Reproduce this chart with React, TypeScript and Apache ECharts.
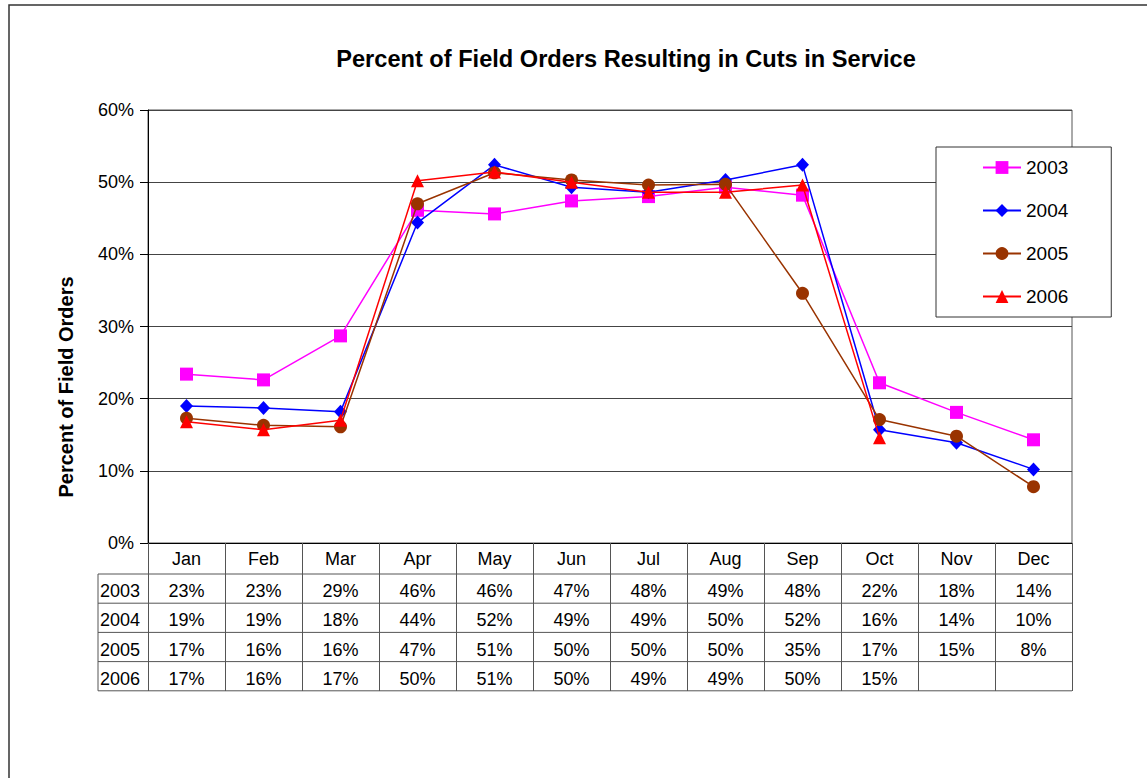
import React, { useEffect, useRef } from "react";
import * as echarts from "echarts";

const months = ["Jan", "Feb", "Mar", "Apr", "May", "Jun", "Jul", "Aug", "Sep", "Oct", "Nov", "Dec"];
const years = ["2003", "2004", "2005", "2006"];
const s2003 = [23.4, 22.6, 28.7, 46.1, 45.6, 47.4, 48.0, 49.3, 48.2, 22.2, 18.1, 14.3];
const s2004 = [19.0, 18.7, 18.2, 44.4, 52.4, 49.3, 48.6, 50.3, 52.4, 15.7, 13.9, 10.2];
const s2005 = [17.3, 16.3, 16.1, 47.0, 51.3, 50.3, 49.6, 49.7, 34.6, 17.1, 14.8, 7.8];
const s2006: (number | null)[] = [16.8, 15.7, 17.0, 50.2, 51.4, 50.0, 48.6, 48.6, 49.6, 14.6, null, null];
const yMin = 0;
const yMax = 60;
const yInterval = 10;

const allSeries = [s2003, s2004, s2005, s2006];
const colors = ["#FF00FF", "#0000FF", "#993300", "#FF0000"];
const symbols = ["rect", "diamond", "circle", "triangle"];

const FONT = "'Liberation Sans', Arial, sans-serif";

export default function App() {
  const ref = useRef<HTMLDivElement>(null);
  useEffect(() => {
    document.body.style.margin = "0";
    if (!ref.current) return;
    const chart = echarts.init(ref.current, undefined, { renderer: "svg" });
    const gridLeft = 148;
    const gridTop = 110;
    const gridRight = 75;
    const gridBottom = 235;
    chart.setOption({
      animation: false,
      backgroundColor: "#fff",
      textStyle: { fontFamily: FONT },
      grid: {
        left: gridLeft,
        top: gridTop,
        right: gridRight,
        bottom: gridBottom,
        show: true,
        borderColor: "#555",
        borderWidth: 1,
        backgroundColor: "transparent",
      },
      legend: {
        orient: "vertical",
        left: 936,
        top: 147,
        padding: [11, 43, 11, 46],
        itemWidth: 38,
        itemHeight: 16,
        itemGap: 24,
        borderColor: "#333",
        borderWidth: 1,
        backgroundColor: "#fff",
        textStyle: { fontSize: 19, color: "#000", fontFamily: FONT },
        data: years,
      },
      xAxis: {
        type: "category",
        data: months,
        boundaryGap: true,
        axisLine: { lineStyle: { color: "#000", width: 1 } },
        axisTick: { show: true, length: 148, interval: 0, lineStyle: { color: "#555", width: 1 } },
        axisLabel: { fontSize: 18, color: "#000", margin: 7, interval: 0, fontFamily: FONT },
        splitLine: { show: false },
      },
      yAxis: {
        type: "value",
        min: yMin,
        max: yMax,
        interval: yInterval,
        axisLine: { show: true, lineStyle: { color: "#000", width: 1 } },
        axisTick: { show: true, length: 8, lineStyle: { color: "#000" } },
        axisLabel: { formatter: "{value}%", fontSize: 18, color: "#000", margin: 14, fontFamily: FONT },
        splitLine: { show: true, lineStyle: { color: "#444", width: 1 } },
      },
      series: allSeries.map((d, i) => ({
        name: years[i],
        type: "line",
        data: d,
        symbol: symbols[i],
        symbolSize: i === 1 ? [13, 14] : 13,
        showAllSymbol: true,
        connectNulls: false,
        lineStyle: { color: colors[i], width: 1.5 },
        itemStyle: { color: colors[i] },
        z: 2 + i,
      })),
    });

    const yBase = chart.convertToPixel({ yAxisIndex: 0 }, 0) as number;
    const xs = months.map((_, i) => chart.convertToPixel({ xAxisIndex: 0 }, i) as number);
    const tableLeft = 98;
    const tableRight = xs[11] + (xs[11] - xs[10]) / 2;
    const headerH = 31;
    const rowH = 29.2;
    const rowTop = (r: number) => yBase + headerH + r * rowH;

    const graphics: any[] = [];
    graphics.push({
      type: "rect",
      shape: { x: 9, y: 5, width: 1160, height: 800 },
      style: { fill: "none", stroke: "#333", lineWidth: 1.5 },
      silent: true,
    });
    graphics.push({
      type: "text",
      x: 626,
      y: 59,
      style: {
        text: "Percent of Field Orders Resulting in Cuts in Service",
        font: `bold 23.6px ${FONT}`,
        fill: "#000",
        textAlign: "center",
        textVerticalAlign: "middle",
      },
    });
    graphics.push({
      type: "text",
      x: 66,
      y: 387,
      rotation: Math.PI / 2,
      style: {
        text: "Percent of Field Orders",
        font: `bold 20px ${FONT}`,
        fill: "#000",
        textAlign: "center",
        textVerticalAlign: "middle",
      },
    });
    for (let r = 0; r <= years.length; r++) {
      const y = rowTop(r);
      graphics.push({
        type: "line",
        shape: { x1: tableLeft, y1: y, x2: tableRight, y2: y },
        style: { stroke: "#555", lineWidth: 1 },
        silent: true,
      });
    }
    graphics.push({
      type: "line",
      shape: { x1: tableLeft, y1: rowTop(0), x2: tableLeft, y2: rowTop(years.length) },
      style: { stroke: "#555", lineWidth: 1 },
      silent: true,
    });
    years.forEach((yr, r) => {
      const cy = rowTop(r) + rowH / 2 + 2.5;
      graphics.push({
        type: "text",
        x: tableLeft + 2,
        y: cy,
        style: { text: yr, font: `18px ${FONT}`, fill: "#000", textAlign: "left", textVerticalAlign: "middle" },
      });
      allSeries[r].forEach((v, i) => {
        if (v === null || v === undefined) return;
        graphics.push({
          type: "text",
          x: xs[i],
          y: cy,
          style: {
            text: Math.round(v) + "%",
            font: `18px ${FONT}`,
            fill: "#000",
            textAlign: "center",
            textVerticalAlign: "middle",
          },
        });
      });
    });
    chart.setOption({ graphic: graphics });

    return () => chart.dispose();
  }, []);
  return <div ref={ref} style={{ width: 1147, height: 778 }} />;
}
